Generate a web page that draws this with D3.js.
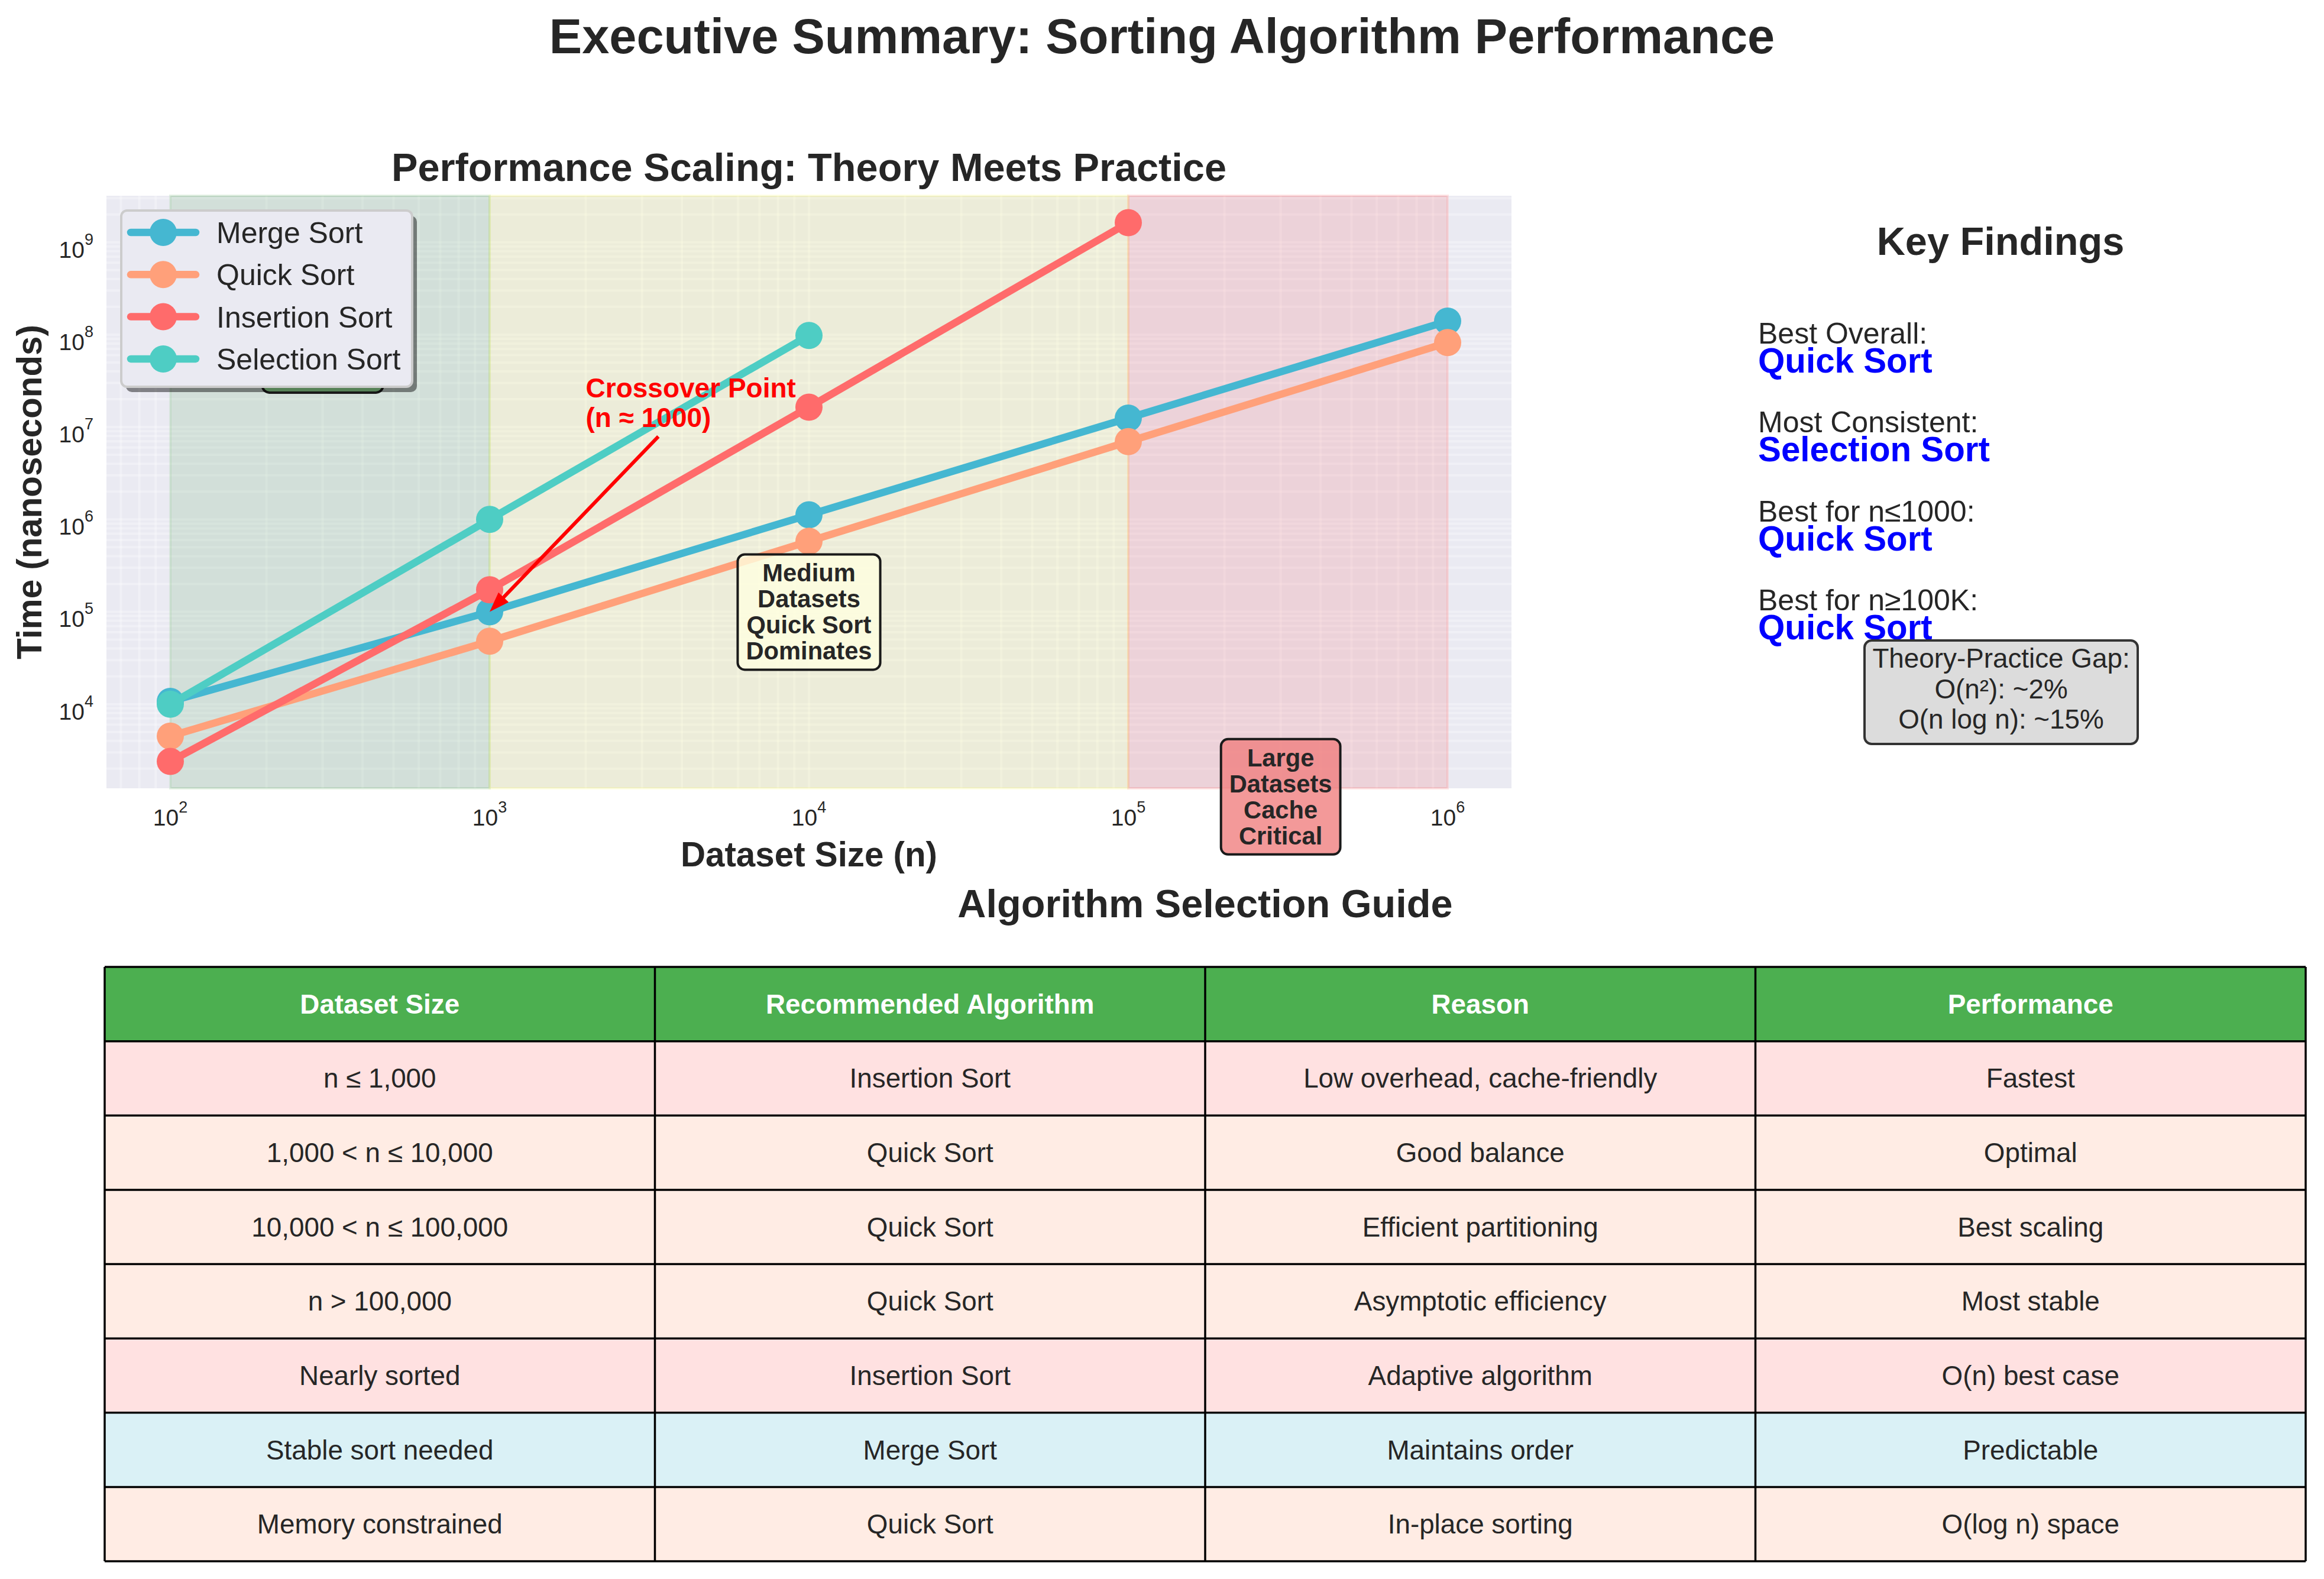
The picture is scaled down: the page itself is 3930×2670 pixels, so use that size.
<!DOCTYPE html>
<html><head><meta charset="utf-8">
<script src="https://cdn.jsdelivr.net/npm/d3@7"></script>
<style>html,body{margin:0;padding:0;background:#fff;} svg{display:block;}</style>
</head><body>
<script>
// ---------------- DATA ----------------
const sizes = [100, 1000, 10000, 100000, 1000000];
const seriesNames = ["Merge Sort", "Quick Sort", "Insertion Sort", "Selection Sort"];
const seriesColors = ["#45B7D1", "#FFA07A", "#FF6B6B", "#4ECDC4"];
const mergeSort = [1.07e4, 1.0e5, 1.12e6, 1.25e7, 1.4e8];
const quickSort = [4.5e3, 4.8e4, 5.8e5, 6.95e6, 8.2e7];
const insertionSort = [2.4e3, 1.73e5, 1.64e7, 1.63e9];
const selectionSort = [1.0e4, 1.0e6, 9.8e7];
const xTickValues = [1e2, 1e3, 1e4, 1e5, 1e6];
const xTickExponents = ["2", "3", "4", "5", "6"];
const yTickValues = [1e4, 1e5, 1e6, 1e7, 1e8, 1e9];
const yTickExponents = ["4", "5", "6", "7", "8", "9"];
const regionRanges = [[100, 1000], [1000, 100000], [100000, 1000000]];
const regionColors = ["green", "yellow", "red"];
// the first box sits hidden behind the legend in the reference; its text is not visible
const boxTexts = [["Small", "Datasets", "Insertion", "Wins"], ["Medium", "Datasets", "Quick Sort", "Dominates"], ["Large", "Datasets", "Cache", "Critical"]];
const boxTextVisible = [false, true, true];
const boxAnchors = [[300, 1e8], [1e4, 1e5], [3e5, 1e3]];
const boxFills = ["#90EE90", "#FFFFE0", "#F08080"];
const crossoverText = ["Crossover Point", "(n ≈ 1000)"];
const crossoverTextAt = [2000, 1e7];
const crossoverTarget = [1000, 1.0e5];
const findingLabels = ["Best Overall:", "Most Consistent:", "Best for n≤1000:", "Best for n≥100K:"];
const findingValues = ["Quick Sort", "Selection Sort", "Quick Sort", "Quick Sort"];
const gapLines = ["Theory-Practice Gap:", "O(n²): ~2%", "O(n log n): ~15%"];
const tableHeaders = ["Dataset Size", "Recommended Algorithm", "Reason", "Performance"];
const tableRows = [
  ["n ≤ 1,000", "Insertion Sort", "Low overhead, cache-friendly", "Fastest"],
  ["1,000 < n ≤ 10,000", "Quick Sort", "Good balance", "Optimal"],
  ["10,000 < n ≤ 100,000", "Quick Sort", "Efficient partitioning", "Best scaling"],
  ["n > 100,000", "Quick Sort", "Asymptotic efficiency", "Most stable"],
  ["Nearly sorted", "Insertion Sort", "Adaptive algorithm", "O(n) best case"],
  ["Stable sort needed", "Merge Sort", "Maintains order", "Predictable"],
  ["Memory constrained", "Quick Sort", "In-place sorting", "O(log n) space"]
];

// ---------------- SETUP ----------------
const W = 3930, H = 2670;
const FONT = "'Liberation Sans', Arial, Helvetica, sans-serif";
const TXT = "#262626";
const svg = d3.select("body").append("svg").attr("width", W).attr("height", H)
  .attr("font-family", FONT);
svg.append("rect").attr("width", W).attr("height", H).attr("fill", "#fff");

const series = [mergeSort, quickSort, insertionSort, selectionSort].map((vals, i) => ({
  name: seriesNames[i], color: seriesColors[i],
  pts: vals.map((v, j) => [sizes[j], v])
}));

// axes scales with 5% log padding like matplotlib
const PL = 180, PR = 2556, PT = 331, PB = 1333;
const lx = d3.extent(sizes).map(Math.log10);
const allY = series.flatMap(s => s.pts.map(p => p[1]));
const ly = d3.extent(allY).map(Math.log10);
const padX = 0.05 * (lx[1] - lx[0]), padY = 0.05 * (ly[1] - ly[0]);
const x = d3.scaleLog().domain([10 ** (lx[0] - padX), 10 ** (lx[1] + padX)]).range([PL, PR]);
const y = d3.scaleLog().domain([10 ** (ly[0] - padY), 10 ** (ly[1] + padY)]).range([PB, PT]);

// titles
svg.append("text").attr("x", 1965).attr("y", 90).attr("text-anchor", "middle")
  .attr("font-size", 83).attr("font-weight", "bold").attr("fill", TXT)
  .text("Executive Summary: Sorting Algorithm Performance");
svg.append("text").attr("x", (PL + PR) / 2).attr("y", 306).attr("text-anchor", "middle")
  .attr("font-size", 66.7).attr("font-weight", "bold").attr("fill", TXT)
  .text("Performance Scaling: Theory Meets Practice");

// plot background
const plot = svg.append("g");
plot.append("rect").attr("x", PL).attr("y", PT).attr("width", PR - PL).attr("height", PB - PT).attr("fill", "#EAEAF2");

// grid (major + minor) on log scales
function logTicks(scale) {
  const [a, b] = scale.domain();
  const out = [];
  for (let k = Math.floor(Math.log10(a)); k <= Math.ceil(Math.log10(b)); k++) {
    for (let m = 1; m <= 9; m++) {
      const v = m * 10 ** k;
      if (v >= a && v <= b) out.push(v);
    }
  }
  return out;
}
const gridG = plot.append("g").attr("stroke", "#fff").attr("stroke-width", 4).attr("stroke-opacity", 0.3);
logTicks(x).forEach(v => gridG.append("line").attr("x1", x(v)).attr("x2", x(v)).attr("y1", PT).attr("y2", PB));
logTicks(y).forEach(v => gridG.append("line").attr("y1", y(v)).attr("y2", y(v)).attr("x1", PL).attr("x2", PR));

// regions
regionRanges.forEach((r, i) => {
  plot.append("rect").attr("x", x(r[0])).attr("y", PT).attr("width", x(r[1]) - x(r[0])).attr("height", PB - PT)
    .attr("fill", regionColors[i]).attr("fill-opacity", 0.1)
    .attr("stroke", regionColors[i]).attr("stroke-opacity", 0.1).attr("stroke-width", 4);
});

// tick labels
const xt = svg.append("g").attr("fill", TXT).attr("font-size", 39);
xTickValues.forEach((v, i) => {
  const t = xt.append("text").attr("x", x(v)).attr("y", 1396).attr("text-anchor", "middle");
  t.append("tspan").text("10");
  t.append("tspan").attr("font-size", 27).attr("dy", -22).text(xTickExponents[i]);
});
const yt = svg.append("g").attr("fill", TXT).attr("font-size", 39);
yTickValues.forEach((v, i) => {
  const t = yt.append("text").attr("x", 158).attr("y", y(v) + 26).attr("text-anchor", "end");
  t.append("tspan").text("10");
  t.append("tspan").attr("font-size", 27).attr("dy", -22).text(yTickExponents[i]);
});

// axis labels
svg.append("text").attr("x", (PL + PR) / 2).attr("y", 1465).attr("text-anchor", "middle")
  .attr("font-size", 58.3).attr("font-weight", "bold").attr("fill", TXT).text("Dataset Size (n)");
svg.append("text").attr("transform", `translate(70,${(PT + PB) / 2}) rotate(-90)`).attr("text-anchor", "middle")
  .attr("font-size", 58.3).attr("font-weight", "bold").attr("fill", TXT).text("Time (nanoseconds)");

// series
const line = d3.line().x(d => x(d[0])).y(d => y(d[1]));
series.forEach(s => {
  const g = plot.append("g");
  g.append("path").attr("d", line(s.pts)).attr("fill", "none").attr("stroke", s.color)
    .attr("stroke-width", 12.5).attr("stroke-linejoin", "round").attr("stroke-linecap", "round");
  s.pts.forEach(p => g.append("circle").attr("cx", x(p[0])).attr("cy", y(p[1])).attr("r", 23).attr("fill", s.color));
});

// annotation boxes
function textBox(lines, cx, cy, fill, size, lh, visible) {
  const g = svg.append("g");
  const rect = g.append("rect");
  const t = g.append("text").attr("text-anchor", "middle").attr("font-size", size).attr("font-weight", "bold").attr("fill", TXT);
  const n = lines.length;
  lines.forEach((l, i) => t.append("tspan").attr("x", cx).attr("y", cy + (i - (n - 1) / 2) * lh + size * 0.36).text(l));
  const bb = t.node().getBBox();
  const px = 14, py = 8;
  rect.attr("x", bb.x - px).attr("y", bb.y - py).attr("width", bb.width + 2 * px).attr("height", bb.height + 2 * py)
    .attr("rx", 12).attr("fill", fill).attr("fill-opacity", 0.8).attr("stroke", "#1a1a1a").attr("stroke-width", 4);
  if (!visible) t.remove();
  return g;
}
boxTexts.forEach((lines, i) => textBox(lines, x(boxAnchors[i][0]), y(boxAnchors[i][1]), boxFills[i], 41.7, 44, boxTextVisible[i]));

// crossover annotation
const ct = svg.append("text").attr("font-size", 46).attr("font-weight", "bold").attr("fill", "red");
const ctx0 = x(crossoverTextAt[0]), cty0 = y(crossoverTextAt[1]);
crossoverText.forEach((l, i) => ct.append("tspan").attr("x", ctx0).attr("y", cty0 - (crossoverText.length - 1 - i) * 50).text(l));
{
  const bb = ct.node().getBBox();
  const cx = bb.x + bb.width / 2, cy = bb.y + bb.height / 2;
  const tx = x(crossoverTarget[0]), ty = y(crossoverTarget[1]);
  const dx = tx - cx, dy = ty - cy, len = Math.hypot(dx, dy);
  const ux = dx / len, uy = dy / len;
  const tStart = (bb.y + bb.height + 6 - cy) / uy;
  const sx = cx + ux * tStart, sy = cy + uy * tStart;
  const ex = tx, ey = ty;
  const head = 34, hw = 12;
  const bx = ex - ux * head, by = ey - uy * head;
  svg.append("line").attr("x1", sx).attr("y1", sy).attr("x2", bx + ux * 4).attr("y2", by + uy * 4)
    .attr("stroke", "red").attr("stroke-width", 6);
  svg.append("path").attr("d", `M${ex},${ey} L${bx - uy * hw},${by + ux * hw} L${bx + uy * hw},${by - ux * hw} Z`).attr("fill", "red");
}

// legend
{
  const lg = svg.append("g");
  const lx0 = 205, ly0 = 356, lw = 492, lhh = 298;
  lg.append("rect").attr("x", lx0 + 8).attr("y", ly0 + 9).attr("width", lw).attr("height", lhh).attr("rx", 10)
    .attr("fill", "#000").attr("fill-opacity", 0.45);
  lg.append("rect").attr("x", lx0).attr("y", ly0).attr("width", lw).attr("height", lhh).attr("rx", 10)
    .attr("fill", "#EAEAF2").attr("stroke", "#CCCCCC").attr("stroke-width", 4);
  series.forEach((s, i) => {
    const cy = 393 + i * 71.3;
    lg.append("line").attr("x1", 221).attr("x2", 331).attr("y1", cy).attr("y2", cy)
      .attr("stroke", s.color).attr("stroke-width", 12.5).attr("stroke-linecap", "round");
    lg.append("circle").attr("cx", 276).attr("cy", cy).attr("r", 23).attr("fill", s.color);
    lg.append("text").attr("x", 366).attr("y", cy + 18).attr("font-size", 50).attr("fill", TXT).text(s.name);
  });
}

// key findings panel
svg.append("text").attr("x", 3383).attr("y", 431).attr("text-anchor", "middle")
  .attr("font-size", 66.7).attr("font-weight", "bold").attr("fill", TXT).text("Key Findings");
findingLabels.forEach((l, i) => {
  const by = 581 + i * 150.3;
  svg.append("text").attr("x", 2973).attr("y", by).attr("font-size", 50).attr("fill", TXT).text(l);
  svg.append("text").attr("x", 2973).attr("y", by + 49).attr("font-size", 58.3).attr("font-weight", "bold")
    .attr("fill", "#0000FF").text(findingValues[i]);
});
{
  const g = svg.append("g");
  g.append("rect").attr("x", 3153).attr("y", 1083).attr("width", 462).attr("height", 175).attr("rx", 12)
    .attr("fill", "#D3D3D3").attr("fill-opacity", 0.8).attr("stroke", "#333").attr("stroke-width", 4);
  gapLines.forEach((l, i) => g.append("text").attr("x", 3384).attr("y", 1129 + i * 51.5).attr("text-anchor", "middle")
    .attr("font-size", 45.8).attr("fill", TXT).text(l));
}

// table
svg.append("text").attr("x", 2038).attr("y", 1551).attr("text-anchor", "middle")
  .attr("font-size", 66.7).attr("font-weight", "bold").attr("fill", TXT).text("Algorithm Selection Guide");
{
  const TL = 177, TR = 3899, TT = 1635, TB = 2640;
  const colScale = d3.scaleBand().domain(d3.range(tableHeaders.length)).range([TL, TR]);
  const rowScale = d3.scaleBand().domain(d3.range(tableRows.length + 1)).range([TT, TB]);
  const algColor = {};
  seriesNames.forEach((n, i) => algColor[n] = seriesColors[i]);
  const tg = svg.append("g");
  tableHeaders.forEach((h, c) => {
    tg.append("rect").attr("x", colScale(c)).attr("y", rowScale(0)).attr("width", colScale.bandwidth()).attr("height", rowScale.bandwidth())
      .attr("fill", "#4CAF50");
  });
  tableRows.forEach((row, r) => {
    row.forEach((cell, c) => {
      tg.append("rect").attr("x", colScale(c)).attr("y", rowScale(r + 1)).attr("width", colScale.bandwidth()).attr("height", rowScale.bandwidth())
        .attr("fill", "#fff");
      tg.append("rect").attr("x", colScale(c)).attr("y", rowScale(r + 1)).attr("width", colScale.bandwidth()).attr("height", rowScale.bandwidth())
        .attr("fill", algColor[row[1]]).attr("fill-opacity", 0.2);
    });
  });
  for (let r = 0; r <= tableRows.length + 1; r++) {
    const yy = r <= tableRows.length ? rowScale(r) : TB;
    tg.append("line").attr("x1", TL).attr("x2", TR).attr("y1", yy).attr("y2", yy).attr("stroke", "#000").attr("stroke-width", 3.5);
  }
  for (let c = 0; c <= tableHeaders.length; c++) {
    const xx = c < tableHeaders.length ? colScale(c) : TR;
    tg.append("line").attr("x1", xx).attr("x2", xx).attr("y1", TT).attr("y2", TB).attr("stroke", "#000").attr("stroke-width", 3.5);
  }
  tableHeaders.forEach((h, c) => {
    tg.append("text").attr("x", colScale(c) + colScale.bandwidth() / 2).attr("y", rowScale(0) + rowScale.bandwidth() / 2 + 16)
      .attr("text-anchor", "middle").attr("font-size", 45.8).attr("font-weight", "bold").attr("fill", "#fff").text(h);
  });
  tableRows.forEach((row, r) => row.forEach((cell, c) => {
    tg.append("text").attr("x", colScale(c) + colScale.bandwidth() / 2).attr("y", rowScale(r + 1) + rowScale.bandwidth() / 2 + 16)
      .attr("text-anchor", "middle").attr("font-size", 45.8).attr("fill", TXT).text(cell);
  }));
}
</script>
</body></html>
